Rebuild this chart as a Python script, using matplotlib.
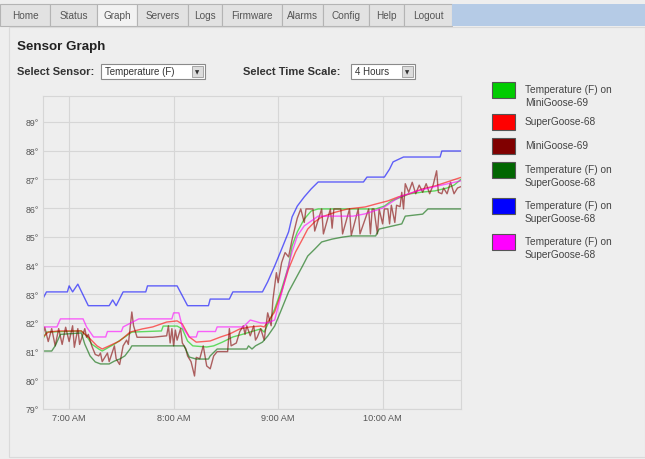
import pandas as pd
import matplotlib
matplotlib.use("Agg")
import matplotlib.pyplot as plt
import matplotlib.dates as mdates
from matplotlib.patches import Rectangle

plt.rcParams['font.family'] = ['Liberation Sans', 'DejaVu Sans']

# ---- data (clock time, deg F) ----
blue_t = ["06:45", "06:47", "06:59", "07:00", "07:02", "07:05", "07:11", "07:23", "07:25", "07:27",
          "07:31", "07:44", "07:45", "08:02", "08:08", "08:20", "08:21", "08:32", "08:34", "08:51",
          "08:54", "08:58", "09:02", "09:06", "09:08", "09:11", "09:15", "09:19", "09:23", "09:49",
          "09:51", "10:01", "10:04", "10:06", "10:12", "10:33", "10:34", "10:45"]
blue_v = [82.85, 83.08, 83.08, 83.29, 83.08, 83.35, 82.6, 82.6, 82.8, 82.6,
          83.08, 83.08, 83.29, 83.29, 82.6, 82.6, 82.83, 82.83, 83.08, 83.08,
          83.43, 83.98, 84.57, 85.17, 85.69, 86.07, 86.39, 86.67, 86.91, 86.91,
          87.08, 87.08, 87.36, 87.61, 87.78, 87.78, 87.99, 87.99]

red_t = ["06:45", "06:48", "06:54", "07:07", "07:11", "07:16", "07:19", "07:23", "07:29", "07:35",
         "07:42", "07:48", "07:56", "08:02", "08:05", "08:09", "08:13", "08:21", "08:27", "08:32",
         "08:38", "08:44", "08:50", "08:52", "08:58", "09:02", "09:06", "09:10", "09:14", "09:17",
         "09:21", "09:25", "09:33", "09:40", "09:50", "09:56", "10:03", "10:09", "10:15", "10:23",
         "10:30", "10:37", "10:45"]
red_v = [81.51, 81.68, 81.72, 81.72, 81.51, 81.20, 81.09, 81.20, 81.37, 81.68,
         81.79, 81.86, 82.03, 82.07, 81.96, 81.51, 81.33, 81.37, 81.51, 81.61,
         81.79, 81.86, 81.89, 81.86, 82.38, 83.08, 83.88, 84.47, 84.92, 85.27,
         85.52, 85.69, 85.86, 85.97, 86.04, 86.14, 86.25, 86.39, 86.49, 86.67,
         86.77, 86.91, 87.07]

green_t = ["06:45", "06:47", "07:07", "07:10", "07:13", "07:17", "07:19", "07:23", "07:26", "07:32",
           "07:36", "07:53", "07:54", "08:02", "08:05", "08:08", "08:11", "08:19", "08:23", "08:28",
           "08:34", "08:40", "08:46", "08:50", "08:52", "08:58", "09:02", "09:06", "09:08", "09:11",
           "09:15", "09:19", "09:23", "09:56", "10:01", "10:05", "10:11", "10:15", "10:23", "10:30",
           "10:37", "10:41", "10:45"]
green_v = [81.44, 81.68, 81.72, 81.54, 81.26, 81.09, 81.02, 81.16, 81.26, 81.51,
           81.68, 81.72, 81.89, 81.89, 81.79, 81.37, 81.20, 81.16, 81.20, 81.33,
           81.51, 81.61, 81.72, 81.79, 81.68, 82.48, 83.18, 83.98, 84.68, 85.17,
           85.62, 85.90, 85.97, 85.97, 86.07, 86.25, 86.39, 86.49, 86.56, 86.60,
           86.70, 86.80, 87.00]

dgreen_t = ["06:45", "06:50", "06:52", "06:55", "07:07", "07:09", "07:12", "07:15", "07:18", "07:23",
            "07:26", "07:29", "07:32", "07:35", "07:36", "08:06", "08:09", "08:13", "08:20", "08:21",
            "08:25", "08:42", "08:43", "08:45", "08:47", "08:51", "08:54", "08:58", "09:02", "09:06",
            "09:10", "09:14", "09:17", "09:21", "09:25", "09:31", "09:37", "09:42", "09:56", "09:58",
            "10:11", "10:13", "10:23", "10:26", "10:45"]
dgreen_v = [81.02, 81.02, 81.20, 81.60, 81.65, 81.26, 80.85, 80.64, 80.57, 80.57,
            80.67, 80.74, 80.85, 81.09, 81.20, 81.20, 80.81, 80.74, 80.74, 80.85,
            81.09, 81.09, 81.20, 81.09, 81.20, 81.33, 81.54, 81.89, 82.48, 83.08,
            83.53, 83.98, 84.33, 84.57, 84.82, 84.92, 84.99, 85.03, 85.03, 85.27,
            85.45, 85.72, 85.79, 85.97, 85.97]

magenta_t = ["06:45", "06:53", "06:55", "07:08", "07:10", "07:14", "07:21", "07:22", "07:30", "07:31",
             "07:40", "07:59", "08:00", "08:03", "08:05", "08:09", "08:13", "08:14", "08:24", "08:25",
             "08:40", "08:44", "08:50", "08:54", "08:58", "09:01", "09:04", "09:08", "09:11", "09:15",
             "09:19", "09:23", "09:43", "09:50", "10:00", "10:10", "10:20", "10:30", "10:45"]
magenta_v = [81.86, 81.86, 82.14, 82.14, 81.86, 81.51, 81.51, 81.70, 81.70, 81.86,
             82.14, 82.14, 82.35, 82.35, 81.86, 81.51, 81.51, 81.70, 81.70, 81.86,
             81.86, 82.10, 82.00, 82.00, 82.10, 82.80, 83.53, 84.47, 85.03, 85.38,
             85.55, 85.72, 85.72, 85.80, 86.00, 86.40, 86.60, 86.75, 86.95]

maroon_t = ["06:45", "06:46", "06:48", "06:50", "06:52", "06:54", "06:56", "06:58", "07:00", "07:02",
            "07:03", "07:05", "07:06", "07:09", "07:10", "07:11", "07:13", "07:15", "07:17", "07:18",
            "07:19", "07:20", "07:22", "07:23", "07:26", "07:27", "07:29", "07:31", "07:33", "07:34",
            "07:36", "07:37", "07:39", "07:48", "07:56", "07:57", "07:58", "07:59", "08:00", "08:01",
            "08:02", "08:04", "08:05", "08:07", "08:08", "08:10", "08:12", "08:13", "08:15", "08:17",
            "08:19", "08:21", "08:23", "08:25", "08:31", "08:32", "08:33", "08:36", "08:38", "08:40",
            "08:41", "08:42", "08:44", "08:46", "08:47", "08:48", "08:50", "08:52", "08:54", "08:56",
            "08:57", "08:59", "09:00", "09:02", "09:04", "09:06", "09:08", "09:10", "09:11", "09:13",
            "09:15", "09:16", "09:20", "09:21", "09:25", "09:26", "09:30", "09:31", "09:32", "09:36",
            "09:37", "09:41", "09:42", "09:46", "09:47", "09:52", "09:53", "09:54", "09:55", "09:57",
            "09:58", "10:00", "10:01", "10:03", "10:04", "10:05", "10:07", "10:08", "10:10", "10:11",
            "10:12", "10:13", "10:15", "10:17", "10:19", "10:21", "10:23", "10:25", "10:27", "10:29",
            "10:31", "10:32", "10:34", "10:35", "10:37", "10:39", "10:41", "10:43", "10:45"]
maroon_v = [81.60, 81.85, 81.35, 81.80, 81.20, 81.80, 81.25, 81.85, 81.35, 81.90,
            81.15, 81.80, 81.25, 81.80, 81.50, 81.60, 81.20, 80.90, 80.85, 80.95,
            80.65, 80.75, 80.95, 80.65, 81.20, 80.75, 80.55, 81.20, 81.40, 81.25,
            82.38, 81.90, 81.50, 81.50, 81.55, 81.90, 81.30, 81.80, 81.20, 81.75,
            81.40, 81.80, 81.30, 81.10, 80.85, 80.65, 80.15, 80.80, 80.75, 81.20,
            80.50, 80.40, 80.85, 81.00, 81.00, 81.80, 81.20, 81.30, 81.70, 81.90,
            81.60, 81.90, 81.55, 81.90, 81.40, 81.50, 81.80, 81.40, 82.35, 81.90,
            82.80, 83.75, 83.40, 84.10, 84.45, 84.30, 84.90, 85.40, 85.65, 85.97,
            85.50, 85.97, 85.97, 85.20, 85.97, 85.10, 85.97, 85.30, 85.97, 85.97,
            85.10, 85.97, 85.05, 85.97, 85.10, 85.97, 85.10, 85.97, 85.97, 85.10,
            85.97, 85.45, 85.97, 85.97, 85.45, 86.10, 85.50, 86.10, 86.05, 86.55,
            85.97, 86.85, 86.55, 86.90, 86.50, 86.80, 86.55, 86.85, 86.50, 86.80,
            87.30, 86.55, 86.50, 86.70, 86.50, 86.90, 86.50, 86.70, 86.75]

series = [
    (green_t, green_v, "#00cc00", "Temperature (F) on\nMiniGoose-69"),
    (red_t, red_v, "#ff0000", "SuperGoose-68"),
    (maroon_t, maroon_v, "#800000", "MiniGoose-69"),
    (dgreen_t, dgreen_v, "#006600", "Temperature (F) on\nSuperGoose-68"),
    (blue_t, blue_v, "#0000ff", "Temperature (F) on\nSuperGoose-68"),
    (magenta_t, magenta_v, "#ff00ff", "Temperature (F) on\nSuperGoose-68"),
]

tabs = ["Home", "Status", "Graph", "Servers", "Logs", "Firmware", "Alarms", "Config", "Help", "Logout"]
tab_edges = [0, 50, 97, 137, 188, 222, 282, 323, 369, 404, 452]

W, H = 645, 460
bg = "#eeeeee"


def fx(x):
    return x / W


def fy(y):
    return 1 - y / H


def to_dt(ts):
    return pd.to_datetime(["2024-01-01 " + t for t in ts])


fig = plt.figure(figsize=(W / 100, H / 100), dpi=100, facecolor=bg)

# page chrome: tab bar
for i, name in enumerate(tabs):
    x0, x1 = tab_edges[i], tab_edges[i + 1]
    fc = "#f2f2f2" if name == "Graph" else "#e2e2e2"
    fig.add_artist(Rectangle((fx(x0), fy(27)), fx(x1 - x0), 22 / H, transform=fig.transFigure,
                             facecolor=fc, edgecolor="#b4b4b4", lw=0.8))
    fig.text(fx((x0 + x1) / 2), fy(16), name, ha="center", va="center", fontsize=7.2, color="#555555")
fig.add_artist(Rectangle((fx(452), fy(27)), fx(W - 452), 22 / H, transform=fig.transFigure,
                         facecolor="#b5cbe6", edgecolor="none"))
# panel outline
fig.add_artist(Rectangle((fx(9), fy(458)), fx(W - 9), (458 - 28) / H, transform=fig.transFigure,
                         facecolor="none", edgecolor="#dadada", lw=0.8))

fig.text(fx(17), fy(47), "Sensor Graph", fontsize=9.6, fontweight="bold", color="#222222", va="center")
fig.text(fx(17), fy(72), "Select Sensor:", fontsize=8, fontweight="bold", color="#333333", va="center")
fig.text(fx(243), fy(72), "Select Time Scale:", fontsize=8, fontweight="bold", color="#333333", va="center")


def dropdown(x0, x1, label):
    fig.add_artist(Rectangle((fx(x0), fy(80)), fx(x1 - x0), 15 / H, transform=fig.transFigure,
                             facecolor="white", edgecolor="#8a8a8a", lw=0.8))
    fig.add_artist(Rectangle((fx(x1 - 13), fy(78)), fx(11), 11 / H, transform=fig.transFigure,
                             facecolor="#dcdcdc", edgecolor="#9a9a9a", lw=0.6))
    fig.text(fx(x1 - 7.5), fy(72.5), "\u25bc", fontsize=4, ha="center", va="center", color="#333333",
             family="DejaVu Sans")
    fig.text(fx(x0 + 4), fy(72), label, fontsize=7, color="#333333", va="center")


dropdown(101, 205, "Temperature (F)")
dropdown(351, 415, "4 Hours")

# chart
ax = fig.add_axes([fx(43), fy(410), fx(461 - 43), (410 - 97) / H])
ax.set_facecolor(bg)
for t, v, c, lab in series:
    ax.plot(to_dt(t), v, color=c, lw=1.0, alpha=0.6)

ax.set_xlim(pd.Timestamp("2024-01-01 06:45"), pd.Timestamp("2024-01-01 10:45"))
ax.set_ylim(79, 79 + (410 - 97) / 28.7)
ax.set_yticks(range(79, 90))
ax.set_yticklabels([f"{v}\u00b0" for v in range(79, 90)])
ax.xaxis.set_major_locator(mdates.HourLocator())
ax.xaxis.set_major_formatter(mdates.DateFormatter("%-I:%M %p"))
ax.tick_params(axis="y", length=0, labelsize=6.3, colors="#555555", pad=3)
ax.tick_params(axis="x", length=0, labelsize=6.6, colors="#555555", pad=3)
ax.grid(True, color="#d6d6d6", lw=0.8)
for s in ax.spines.values():
    s.set_color("#d6d6d6")
    s.set_linewidth(0.8)

# legend drawn as boxes beside the chart
leg_y = [91, 123, 147, 171, 207, 243]
for (t, v, c, lab), y in zip(series, leg_y):
    fig.add_artist(Rectangle((fx(492), fy(y + 8)), fx(23), 16 / H, transform=fig.transFigure,
                             facecolor=c, edgecolor="#555555", lw=0.8))
    lines = lab.split("\n")
    fig.text(fx(525), fy(y - 1), lines[0], fontsize=7.3, color="#444444", va="center")
    if len(lines) > 1:
        fig.text(fx(525), fy(y + 12), lines[1], fontsize=7.3, color="#444444", va="center")

fig.savefig("out.png", dpi=100, facecolor=bg)
